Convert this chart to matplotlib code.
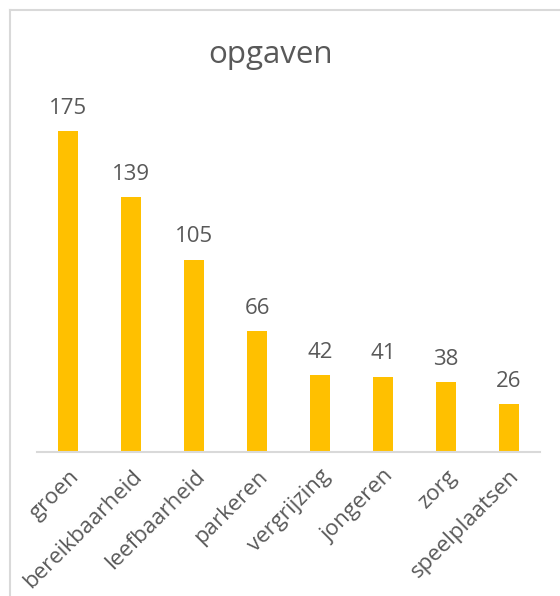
import matplotlib.pyplot as plt
from matplotlib.lines import Line2D

categories = ["groen", "bereikbaarheid", "leefbaarheid", "parkeren",
              "vergrijzing", "jongeren", "zorg", "speelplaatsen"]
values = [175, 139, 105, 66, 42, 41, 38, 26]

BAR_COLOR = "#FFC000"
TEXT_COLOR = "#595959"
LINE_COLOR = "#D9D9D9"

plt.rcParams["font.family"] = ["Open Sans", "DejaVu Sans"]

W, H = 560, 596
fig = plt.figure(figsize=(W / 100, H / 100), dpi=100)

# chart frame (only top and left edges visible in the crop)
fig.add_artist(Line2D([10 / W, 10 / W], [0, 1 - 10 / H], color=LINE_COLOR, lw=1.5))
fig.add_artist(Line2D([10 / W, 1], [1 - 10 / H, 1 - 10 / H], color=LINE_COLOR, lw=1.5))

ax = fig.add_axes([37 / W, 1 - 452 / H, (540 - 37) / W, (452 - 100) / H])
x = range(len(categories))
ax.bar(x, values, width=0.32, color=BAR_COLOR)
ax.set_xlim(-0.5, len(categories) - 0.5)
ax.set_ylim(0, 192)

for xi, v in zip(x, values):
    ax.annotate(str(v), (xi, v), xytext=(0, 9), textcoords="offset points",
                ha="center", va="bottom", fontsize=16, color=TEXT_COLOR)

for s in ["top", "right", "left"]:
    ax.spines[s].set_visible(False)
ax.spines["bottom"].set_color(LINE_COLOR)
ax.spines["bottom"].set_linewidth(1.5)
ax.set_yticks([])
ax.set_xticks(list(x))
ax.set_xticklabels(categories, rotation=45, ha="right", rotation_mode="anchor",
                   fontsize=16, color=TEXT_COLOR)
ax.tick_params(axis="x", length=0, pad=10)

fig.text(270 / W, 1 - 55 / H, "opgaven", ha="center", va="center",
         fontsize=22.5, color=TEXT_COLOR)

fig.savefig("out.png", dpi=100)
